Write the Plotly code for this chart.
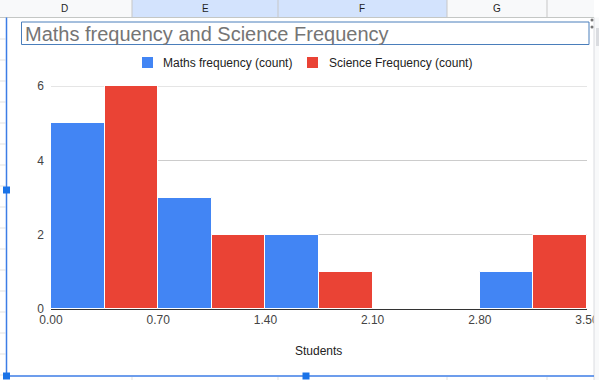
import plotly.graph_objects as go

# ---- data ----
bin_starts = [0.0, 0.7, 1.4, 2.1, 2.8]
bin_width = 0.7
maths_counts = [5, 3, 2, 0, 1]
science_counts = [6, 2, 1, 0, 2]
x_ticks = [0.0, 0.7, 1.4, 2.1, 2.8, 3.5]
x_tick_labels = ["0.00", "0.70", "1.40", "2.10", "2.80", "3.50"]
y_ticks = [0, 2, 4, 6]
series_names = ["Maths frequency (count)", "Science Frequency (count)"]
chart_title = "Maths frequency and Science Frequency"
x_title = "Students"
col_letters = ["D", "E", "F", "G"]

# ---- layout geometry (pixels) ----
W, H = 599, 380
L, R, T, B = 51, 587, 86, 309
PW, PH = R - L, B - T

def px(x):
    return (x - L) / PW

def py(y):
    return (B - y) / PH

centers = [s + bin_width / 2 for s in bin_starts]

BLUE = "#4285f4"
RED = "#ea4335"
FONT = "Arial, Liberation Sans, sans-serif"

fig = go.Figure()
fig.add_trace(go.Bar(x=centers, y=maths_counts, name=series_names[0],
                     marker=dict(color=BLUE, line=dict(color="white", width=1)),
                     offsetgroup="m", showlegend=False))
fig.add_trace(go.Bar(x=centers, y=science_counts, name=series_names[1],
                     marker=dict(color=RED, line=dict(color="white", width=1)),
                     offsetgroup="s", showlegend=False))

shapes = []
annotations = []

def rect(x0, y0, x1, y1, fill=None, line=None, lw=0, layer="above"):
    shapes.append(dict(type="rect", xref="paper", yref="paper",
                       x0=px(x0), x1=px(x1), y0=py(y0), y1=py(y1),
                       fillcolor=fill if fill else "rgba(0,0,0,0)",
                       line=dict(color=line if line else "rgba(0,0,0,0)", width=lw),
                       layer=layer))

def hline(x0, x1, y, color, w=1, layer="above"):
    shapes.append(dict(type="line", xref="paper", yref="paper",
                       x0=px(x0), x1=px(x1), y0=py(y), y1=py(y),
                       line=dict(color=color, width=w), layer=layer))

def vline(x, y0, y1, color, w=1, layer="above"):
    shapes.append(dict(type="line", xref="paper", yref="paper",
                       x0=px(x), x1=px(x), y0=py(y0), y1=py(y1),
                       line=dict(color=color, width=w), layer=layer))

# top gridline (at the range edge) drawn under the bars
shapes.append(dict(type="line", xref="paper", yref="y", x0=0, x1=1,
                   y0=y_ticks[-1], y1=y_ticks[-1],
                   line=dict(color="#cccccc", width=1), layer="below"))

# spreadsheet header
rect(0, 0, 594, 17.5, fill="#f8f9fa")
rect(132, 0, 447, 17.5, fill="#d3e3fd")
for cx in [132, 278, 447, 547]:
    vline(cx, 0, 17.5, "#c7c7c7")
hline(0, 594, 17.5, "#c4c7c5")
for lab, cx in zip(col_letters, [64, 205, 362, 497]):
    annotations.append(dict(text=lab, x=px(cx), y=py(9), xref="paper", yref="paper",
                            showarrow=False, xanchor="center", yanchor="middle",
                            font=dict(family=FONT, size=10, color="#1f1f1f")))

# left row lines
for k in range(17):
    yy = 39 + 21 * k
    if yy < 376:
        hline(0, 5.5, yy, "#e1e1e1")
# bottom column marks
for cx in [132, 278, 447, 547]:
    vline(cx, 377, 380, "#e1e1e1")

# right scrollbar strip
rect(594, 17.5, 599, 380, fill="#f8f9fa")
vline(594, 17.5, 380, "#dadce0")
rect(596, 28, 599, 46, fill="#dadce0")

# chart selection border
SEL = "#3c7de6"
vline(6.5, 17.5, 376, SEL, 1.5)
hline(6.5, 594, 376, SEL, 1.5)
for (hx, hy) in [(6.5, 190), (6.5, 376), (306, 376)]:
    rect(hx - 3.5, hy - 3.5, hx + 3.5, hy + 3.5, fill="#1a73e8")
# small dots top-right
for dy in [20, 27]:
    shapes.append(dict(type="circle", xref="paper", yref="paper",
                       x0=px(590.5), x1=px(593.5), y0=py(dy - 1.5), y1=py(dy + 1.5),
                       fillcolor="#777", line=dict(width=0), layer="above"))

# title box
rect(21.5, 22, 589, 44.5, line="#4a7ebb", lw=1)
annotations.append(dict(text=chart_title, x=px(23), y=py(33.5), xref="paper", yref="paper",
                        showarrow=False, xanchor="left", yanchor="middle",
                        font=dict(family=FONT, size=20, color="#757575")))

# legend (swatch + label)
for name, color, sx, tx in zip(series_names, [BLUE, RED], [142, 307], [161, 327]):
    rect(sx, 57, sx + 11, 68, fill=color)
    annotations.append(dict(text=name, x=px(tx), y=py(62.5), xref="paper", yref="paper",
                            showarrow=False, xanchor="left", yanchor="middle",
                            font=dict(family=FONT, size=12, color="#222222")))

# x axis title
annotations.append(dict(text=x_title, x=px(318), y=py(351), xref="paper", yref="paper",
                        showarrow=False, xanchor="center", yanchor="middle",
                        font=dict(family=FONT, size=12, color="#222222")))

fig.update_layout(
    template="none",
    width=W, height=H,
    margin=dict(l=L, r=W - R, t=T, b=H - B, pad=0, autoexpand=False),
    paper_bgcolor="white", plot_bgcolor="white",
    barmode="group", bargap=0, bargroupgap=0,
    showlegend=False,
    xaxis=dict(range=[0, 3.5], tickvals=x_ticks, ticktext=x_tick_labels, automargin=False,
               showgrid=False, zeroline=False, showline=True, linecolor="#333333", linewidth=1,
               ticks="", ticklabeloverflow="allow",
               tickfont=dict(family=FONT, size=12, color="#444444"), fixedrange=True),
    yaxis=dict(range=[0, 6], tickvals=y_ticks, showgrid=True, gridcolor="#cccccc", gridwidth=1,
               automargin=False, zeroline=False, showline=False, ticks="", ticklabelstandoff=6,
               tickfont=dict(family=FONT, size=12, color="#444444"), fixedrange=True),
    shapes=shapes, annotations=annotations,
)

fig.write_html("out.html", config={"displayModeBar": False},
               post_script="document.body.style.margin='0';document.body.style.overflow='hidden';")
